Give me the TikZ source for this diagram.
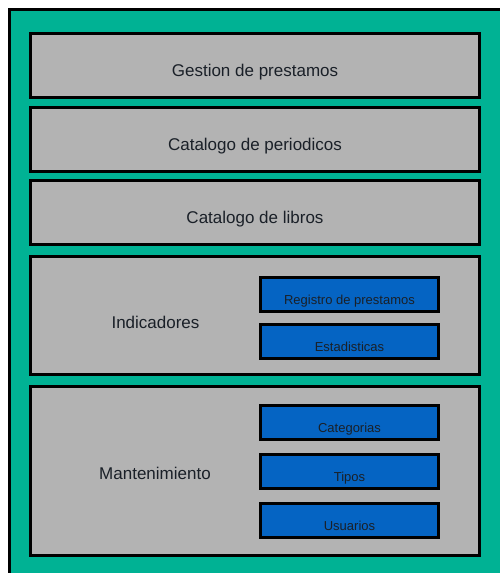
\documentclass[tikz,border=0pt]{standalone}
\usepackage{fontspec}
\setmainfont{Liberation Sans}
\definecolor{fondo}{RGB}{0,178,148}
\definecolor{gris}{RGB}{179,179,179}
\definecolor{azul}{RGB}{5,100,195}
\definecolor{tinta}{RGB}{26,32,40}
\begin{document}
\begin{tikzpicture}[x=1pt, y=-1pt,
    modulo/.style={draw=black, line width=3pt, fill=gris, minimum width=449pt,
      text=tinta, font=\fontsize{17}{20}\selectfont, text height=21pt, text depth=0pt},
    opcion/.style={draw=black, line width=3pt, fill=azul, minimum width=178pt,
      minimum height=34pt, inner sep=0pt, text=tinta,
      font=\fontsize{13}{15}\selectfont, text height=20pt, text depth=0pt},
    rotulo/.style={anchor=base, text=tinta, font=\fontsize{17}{20}\selectfont}]
    \useasboundingbox (0, 0) rectangle (500, 573);
    \clip (0, 0) rectangle (500, 573);
    \draw[line width=3pt, fill=fondo] (9.5, 9.5) rectangle (540, 620);
    % modulos principales
    \node[modulo, minimum height=64pt] (gestion) at (255, 65.5) {Gestion de prestamos};
    \node[modulo, minimum height=64pt] (periodicos) at (255, 139.5) {Catalogo de periodicos};
    \node[modulo, minimum height=64pt] (libros) at (255, 212.5) {Catalogo de libros};
    \node[modulo, minimum height=118pt] (indicadores) at (255, 315.5) {};
    \node[modulo, minimum height=169pt] (mantenimiento) at (255, 471) {};
    \node[rotulo] (indicadores-txt) at (155.5, 328) {Indicadores};
    \node[rotulo] (mantenimiento-txt) at (155, 479) {Mantenimiento};
    % opciones
    \node[opcion] (registro) at (349.5, 294) {Registro de prestamos};
    \node[opcion] (estadisticas) at (349.5, 341) {Estadisticas};
    \node[opcion] (categorias) at (349.5, 422) {Categorias};
    \node[opcion] (tipos) at (349.5, 471) {Tipos};
    \node[opcion] (usuarios) at (349.5, 520.5) {Usuarios};
\end{tikzpicture}
\end{document}
